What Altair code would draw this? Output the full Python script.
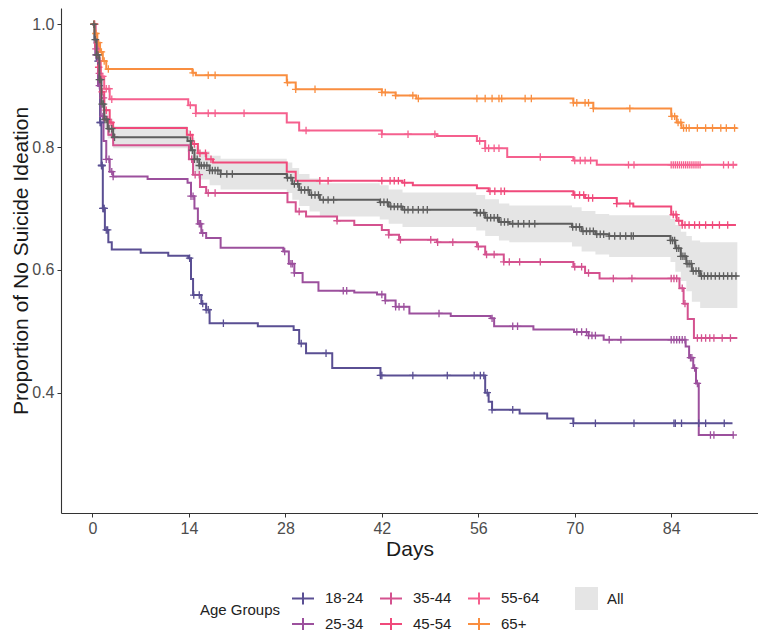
import bisect
import altair as alt
import pandas as pd

# ---------------- data (Kaplan-Meier step curves) ----------------
GROUPS = ["18-24", "25-34", "35-44", "45-54", "55-64", "65+"]
GROUP_COLORS = ["#5a4f93", "#9c509d", "#d4528f", "#f04a7b", "#f5608e", "#f98e40"]

g1824_days = [0, 0.3, 0.6, 0.9, 1.1, 1.3, 1.5, 1.8, 2.3, 2.8, 7, 11, 13.9, 14.3, 14.6, 15.8, 16.5, 17.0,
              24, 29.2, 30.0, 31.0, 34.8, 41.8, 57.0, 57.5, 58.0, 62, 66, 69.8]
g1824_vals = [1.0, 0.97, 0.94, 0.90, 0.84, 0.77, 0.70, 0.665, 0.645, 0.633, 0.628, 0.623, 0.619, 0.585, 0.559,
              0.545, 0.535, 0.513, 0.508, 0.502, 0.48, 0.464, 0.44, 0.428, 0.40, 0.385, 0.372, 0.366, 0.358, 0.35]
g1824_end = 92.9
g1824_cens = [0.8, 1.1, 1.2, 1.3, 1.35, 1.4, 1.5, 1.6, 1.7, 2.0, 2.2, 14.1, 14.7, 15.5, 16.0, 16.5, 16.8, 19.0,
              30.3, 33.9, 41.8, 42.0, 46.5, 51.5, 55.4, 56.3, 56.8, 57.3, 58.0, 61.0, 69.8, 73.0, 78.6,
              84.4, 84.6, 85.5, 88.0, 89.0, 91.7]

g2534_days = [0, 0.4, 0.8, 1.2, 1.6, 2.0, 2.5, 3.0, 8, 13.8, 14.3, 14.8, 15.3, 15.8, 16.5, 18.6, 27.7, 28.5,
              29.3, 30.5, 32.8, 38, 41.3, 42.5, 44.0, 46.0, 52, 57.8, 58.3, 64, 69.9, 72, 74.2, 86.1, 86.6,
              87.2, 87.6, 88.0]
g2534_vals = [1.0, 0.95, 0.90, 0.85, 0.81, 0.78, 0.76, 0.752, 0.748, 0.742, 0.72, 0.70, 0.675, 0.66, 0.652,
              0.636, 0.63, 0.61, 0.595, 0.58, 0.566, 0.563, 0.56, 0.55, 0.54, 0.529, 0.525, 0.521, 0.508, 0.503,
              0.499, 0.493, 0.486, 0.475, 0.457, 0.44, 0.415, 0.331]
g2534_end = 93.0
g2534_cens = [0.5, 1.0, 1.5, 2.0, 2.4, 2.8, 3.0, 14.3, 14.6, 15.5, 15.7, 16.0, 27.9, 28.8, 29.0, 29.3, 36.4,
              36.9, 42.0, 42.5, 44.0, 44.5, 45.2, 50.3, 58.0, 61.0, 61.7, 70.3, 71.0, 71.7, 72.0, 72.5, 73.0,
              75.0, 76.7, 84.0, 84.4, 84.8, 85.2, 85.6, 86.0, 86.8, 87.0, 87.4, 87.8, 89.7, 90.2, 93.0]

g3544_days = [0, 0.4, 0.8, 1.2, 1.7, 2.3, 3.0, 14.0, 14.6, 15.6, 16.5, 28.3, 29.5, 31.0, 35.5, 38, 42.0,
              43.0, 44.5, 50, 55.8, 57.0, 59.7, 69.8, 71.5, 73.6, 85.2, 85.8, 86.4, 87.3]
g3544_vals = [1.0, 0.96, 0.92, 0.88, 0.845, 0.82, 0.803, 0.78, 0.755, 0.735, 0.725, 0.71, 0.695, 0.687, 0.68,
              0.673, 0.665, 0.657, 0.649, 0.645, 0.638, 0.625, 0.613, 0.605, 0.595, 0.586, 0.57, 0.545, 0.52,
              0.489]
g3544_end = 93.6
g3544_cens = [0.5, 1.0, 1.6, 2.2, 2.8, 14.4, 14.9, 15.5, 16.8, 17.8, 30.0, 35.5, 43.0, 44.7, 49.1, 50.1, 52.3,
              56.0, 57.2, 58.3, 59.7, 60.5, 62.0, 65.0, 70.0, 71.0, 72.0, 75.6, 78.3, 84.0, 84.4, 84.8, 85.6,
              86.0, 87.8, 88.4, 89.0, 89.6, 90.2, 91.4, 92.6]

g4554_days = [0, 0.4, 0.8, 1.2, 1.7, 2.5, 3.0, 13.7, 14.5, 15.3, 16.5, 17.5, 28.2, 29.5, 45.0, 46.5, 55.8,
              57.5, 69.8, 71.5, 76.1, 78.5, 84.0, 84.8, 85.6]
g4554_vals = [1.0, 0.965, 0.93, 0.89, 0.86, 0.84, 0.831, 0.82, 0.805, 0.79, 0.78, 0.775, 0.76, 0.745, 0.742,
              0.738, 0.733, 0.728, 0.722, 0.717, 0.708, 0.703, 0.69, 0.68, 0.673]
g4554_end = 93.4
g4554_cens = [0.3, 0.9, 1.4, 2.0, 2.7, 14.2, 14.8, 15.6, 16.4, 17.2, 33.0, 34.2, 42.0, 43.2, 43.8, 44.4, 45.3,
              57.7, 58.4, 59.3, 59.8, 70.0, 70.7, 71.3, 72.0, 72.6, 76.1, 78.0, 84.3, 84.7, 85.1, 85.6, 86.0,
              86.6, 87.4, 88.1, 89.0, 90.0, 91.0, 92.2]

g5564_days = [0, 0.4, 0.8, 1.2, 1.7, 2.5, 13.9, 15.0, 28.2, 30.0, 42.0, 50, 55.8, 57.0, 60.2, 69.8, 73.2]
g5564_vals = [1.0, 0.97, 0.94, 0.915, 0.895, 0.878, 0.868, 0.855, 0.84, 0.827, 0.821, 0.818, 0.81, 0.798,
              0.784, 0.778, 0.771]
g5564_end = 93.6
g5564_cens = [0.3, 0.7, 1.1, 1.5, 2.0, 2.4, 2.8, 14.2, 15.0, 16.8, 17.8, 22.0, 31.0, 42.0, 45.8, 49.7, 56.2,
              57.0, 57.5, 58.3, 59.0, 65.0, 70.0, 70.8, 71.5, 72.3, 77.8, 78.6, 84.0, 84.3, 84.6, 84.9, 85.2,
              85.5, 85.8, 86.1, 86.4, 86.7, 87.0, 87.3, 87.6, 87.9, 88.2, 91.6, 92.3, 93.0]

g65_days = [0, 0.3, 0.7, 1.1, 1.5, 2.0, 14.5, 15.0, 28.2, 29.5, 42.0, 44.0, 47.0, 69.8, 72.7, 84.0, 84.8, 85.5]
g65_vals = [1.0, 0.985, 0.97, 0.955, 0.94, 0.927, 0.921, 0.917, 0.905, 0.894, 0.889, 0.884, 0.879, 0.872,
            0.863, 0.85, 0.84, 0.831]
g65_end = 93.6
g65_cens = [0.2, 0.5, 0.9, 1.3, 1.7, 2.3, 14.6, 16.8, 17.8, 28.3, 29.5, 32.3, 42.0, 42.5, 44.0, 46.5, 47.3,
            55.8, 57.0, 58.0, 59.0, 59.4, 62.8, 63.7, 69.8, 70.3, 71.5, 72.0, 72.7, 78.0, 84.1, 84.5, 85.0,
            85.4, 85.8, 86.2, 86.6, 87.8, 89.0, 90.0, 91.2, 92.0, 93.2]

all_days = [0, 0.3, 0.6, 1.0, 1.3, 1.7, 2.2, 3.0, 13.8, 14.3, 14.8, 15.5, 17, 18.6, 28.2, 29.0, 30.0, 31.5,
            33, 41.7, 43, 45, 55.7, 57, 59, 60.5, 69.6, 71, 73, 75, 83.9, 84.6, 85.4, 86.2, 87.0, 88.2]
all_vals = [1.0, 0.975, 0.95, 0.91, 0.87, 0.845, 0.83, 0.816, 0.81, 0.795, 0.78, 0.77, 0.762, 0.756, 0.75,
            0.74, 0.73, 0.722, 0.714, 0.71, 0.703, 0.698, 0.693, 0.685, 0.678, 0.675, 0.67, 0.663, 0.658, 0.655,
            0.648, 0.635, 0.622, 0.61, 0.598, 0.59]
all_lower = [1.0, 0.970, 0.942, 0.90, 0.858, 0.831, 0.814, 0.798, 0.792, 0.775, 0.758, 0.747, 0.738, 0.731,
             0.725, 0.714, 0.704, 0.695, 0.687, 0.682, 0.675, 0.670, 0.664, 0.655, 0.648, 0.645, 0.638, 0.630,
             0.625, 0.621, 0.613, 0.597, 0.582, 0.565, 0.548, 0.538]
all_upper = [1.0, 0.980, 0.958, 0.92, 0.882, 0.859, 0.846, 0.834, 0.828, 0.815, 0.802, 0.793, 0.786, 0.781,
             0.775, 0.766, 0.756, 0.749, 0.741, 0.738, 0.731, 0.726, 0.722, 0.715, 0.708, 0.705, 0.702, 0.696,
             0.691, 0.689, 0.683, 0.673, 0.662, 0.655, 0.648, 0.645]
all_end = 93.6
all_cens = [0.2, 0.4, 0.6, 0.8, 1.0, 1.2, 1.4, 1.6, 1.8, 2.0, 2.4, 2.8, 3.2, 14.2, 14.5, 14.8, 15.2, 15.5,
            15.8, 16.2, 16.6, 17.0, 17.4, 17.8, 18.2, 18.6, 19.5, 20.3, 28.3, 28.8, 29.3, 29.8, 30.3, 30.8,
            31.3, 31.8, 32.3, 32.8, 33.5, 34.2, 35.0, 41.8, 42.3, 42.8, 43.3, 43.8, 44.3, 44.8, 45.3, 45.8,
            46.5, 47.3, 48.0, 48.6, 55.8, 56.3, 56.8, 57.3, 57.8, 58.3, 58.8, 59.3, 59.8, 60.3, 61.0, 61.8,
            62.6, 63.4, 64.2, 69.7, 70.2, 70.7, 71.2, 71.7, 72.2, 72.7, 73.2, 73.7, 74.2, 75.0, 75.8, 76.6,
            77.4, 78.2, 78.5, 83.9, 84.2, 84.5, 84.8, 85.1, 85.4, 85.7, 86.0, 86.3, 86.6, 86.9, 87.2, 87.6,
            88.0, 88.4, 88.8, 89.3, 89.8, 90.4, 91.0, 91.6, 92.2, 92.8, 93.4]

SERIES = {
    "18-24": (g1824_days, g1824_vals, g1824_end, g1824_cens),
    "25-34": (g2534_days, g2534_vals, g2534_end, g2534_cens),
    "35-44": (g3544_days, g3544_vals, g3544_end, g3544_cens),
    "45-54": (g4554_days, g4554_vals, g4554_end, g4554_cens),
    "55-64": (g5564_days, g5564_vals, g5564_end, g5564_cens),
    "65+": (g65_days, g65_vals, g65_end, g65_cens),
}


def level_at(days, vals, t):
    i = bisect.bisect_right(days, t) - 1
    return vals[max(i, 0)]


line_rows, cens_rows = [], []
for g, (d, v, end, cens) in SERIES.items():
    for di, vi in zip(d, v):
        line_rows.append({"group": g, "day": di, "surv": vi})
    line_rows.append({"group": g, "day": end, "surv": v[-1]})
    for c in cens:
        cens_rows.append({"group": g, "day": c, "surv": level_at(d, v, c)})
lines_df = pd.DataFrame(line_rows)
cens_df = pd.DataFrame(cens_rows)

all_line_df = pd.DataFrame({"day": all_days + [all_end], "surv": all_vals + [all_vals[-1]]})
band_df = pd.DataFrame({"day": all_days + [all_end], "lo": all_lower + [all_lower[-1]],
                        "hi": all_upper + [all_upper[-1]], "band": "All"})
all_cens_df = pd.DataFrame({"day": all_cens, "surv": [level_at(all_days, all_vals, c) for c in all_cens]})

# ---------------- chart ----------------
FONT = "Liberation Sans"
PLUS = "M-1,0H1M0,-1V1"
x_scale = alt.Scale(domain=[-4.57, 96.6], nice=False, zero=False)
y_scale = alt.Scale(domain=[0.204, 1.0265], nice=False, zero=False)

x_enc = alt.X("day:Q", scale=x_scale,
              axis=alt.Axis(title="Days", values=[0, 14, 28, 42, 56, 70, 84], grid=False))
y_enc = alt.Y("surv:Q", scale=y_scale,
              axis=alt.Axis(title="Proportion of No Suicide Ideation", values=[0.4, 0.6, 0.8, 1.0],
                            format=".1f", grid=False))

color_enc = alt.Color(
    "group:N",
    scale=alt.Scale(domain=GROUPS, range=GROUP_COLORS),
    legend=alt.Legend(title="Age Groups", orient="none", legendX=139, legendY=578, columns=3,
                      titleOrient="left", titleAnchor="middle", titleBaseline="middle",
                      titleFontSize=15, titleFontWeight="normal", titleColor="#222222", titlePadding=10,
                      labelFontSize=15, labelColor="#222222", labelOffset=10,
                      symbolType="M-1,0H1M0,-0.55V0.55", symbolSize=484, symbolStrokeWidth=2,
                      columnPadding=12, rowPadding=3),
)

band = alt.Chart(band_df).mark_area(interpolate="step-after", opacity=0.85).encode(
    x=alt.X("day:Q", scale=x_scale),
    y=alt.Y("lo:Q", scale=y_scale),
    y2="hi:Q",
    fill=alt.Fill("band:N", scale=alt.Scale(domain=["All"], range=["#e0e0e0"]),
                  legend=alt.Legend(title=None, orient="none", legendX=514, legendY=579,
                                    symbolType="square", symbolSize=529, symbolStrokeWidth=0,
                                    labelFontSize=15, labelColor="#222222", labelOffset=9)),
)

group_lines = alt.Chart(lines_df).mark_line(interpolate="step-after", strokeWidth=2).encode(
    x=x_enc, y=y_enc, color=color_enc, detail="group:N")

group_cens = alt.Chart(cens_df).mark_point(shape=PLUS, size=56, filled=False, strokeWidth=1.3,
                                           opacity=1).encode(x="day:Q", y="surv:Q", color=color_enc)

all_line = alt.Chart(all_line_df).mark_line(interpolate="step-after", strokeWidth=2,
                                            color="#5e5e5e").encode(x="day:Q", y="surv:Q")
all_cens = alt.Chart(all_cens_df).mark_point(shape=PLUS, size=56, filled=False, strokeWidth=1.3,
                                             opacity=1, color="#5e5e5e").encode(x="day:Q", y="surv:Q")

chart = alt.layer(band, group_lines, group_cens, all_line, all_cens).properties(
    width=697, height=505,
    autosize=alt.AutoSizeParams(type="none"),
    padding={"left": 53, "top": 0, "right": 0, "bottom": 118},
    background="white",
).configure_view(stroke=None).configure_axis(
    labelFont=FONT, titleFont=FONT, labelFontSize=16, labelColor="#4d4d4d",
    titleFontSize=21, titleFontWeight="normal", titleColor="#1a1a1a",
    domainColor="#333333", domainWidth=1.1, tickColor="#333333", tickSize=4, labelPadding=3,
).configure_axisX(titlePadding=2).configure_axisY(titlePadding=0).configure_legend(
    labelFont=FONT, titleFont=FONT)

chart.save("out.html", embed_options={"renderer": "svg", "actions": False})
